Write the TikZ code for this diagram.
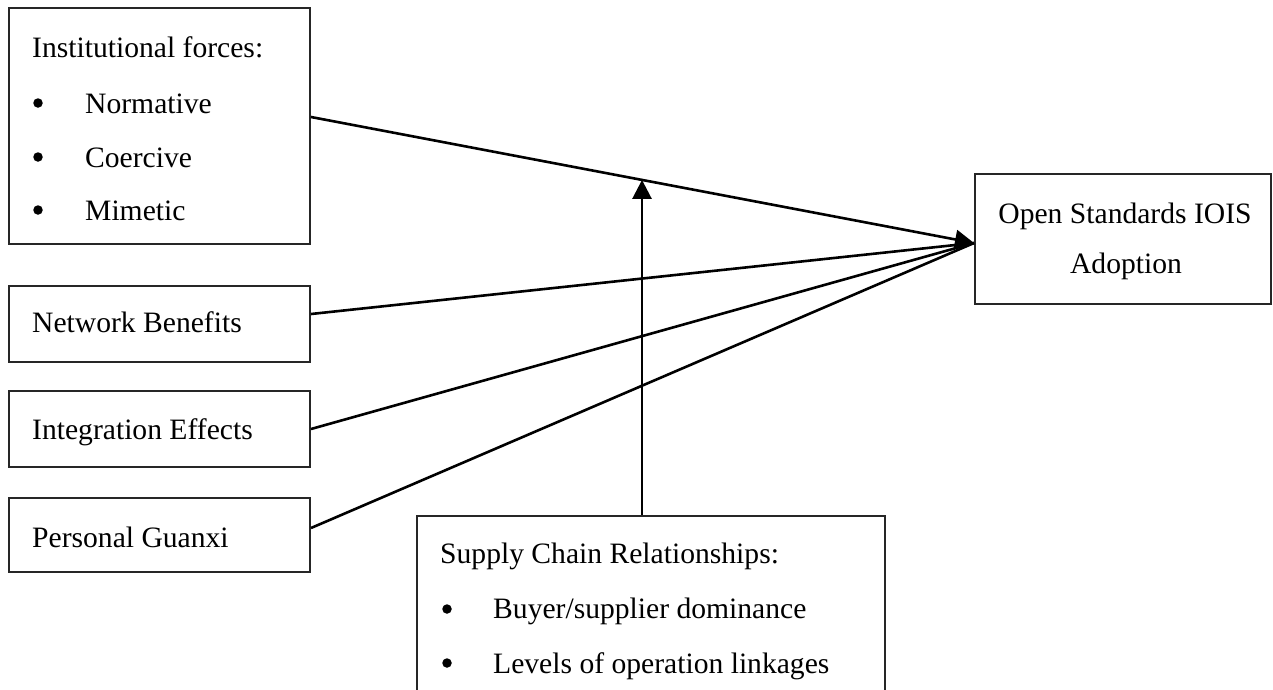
\documentclass[tikz,border=0pt]{standalone}
\usepackage{fontspec}
\setmainfont{Liberation Serif}
\usetikzlibrary{arrows.meta,calc}
\begin{document}
\begin{tikzpicture}[x=1pt,y=-1pt,
  box/.style={draw=black!85,line width=2pt,inner sep=0pt},
  txt/.style={anchor=base west,inner sep=0pt,font=\fontsize{29.6}{34}\selectfont},
  ctxt/.style={anchor=base,inner sep=0pt,font=\fontsize{29.6}{34}\selectfont},
  bul/.style={circle,fill=black,inner sep=0pt,minimum size=9.5pt},
  conn/.style={line width=2.6pt,-{Triangle[length=19pt,width=19pt]}},
  connb/.style={line width=2.6pt}]
\useasboundingbox (0,0) rectangle (1273,689);
% boxes
\node[box,minimum width=301pt,minimum height=236pt] (inst) at (159.5,126) {};
\node[box,minimum width=301pt,minimum height=76pt] (net) at (159.5,324) {};
\node[box,minimum width=301pt,minimum height=76pt] (integ) at (159.5,429) {};
\node[box,minimum width=301pt,minimum height=74pt] (guanxi) at (159.5,535) {};
\node[box,minimum width=296pt,minimum height=130pt] (open) at (1123,239) {};
\node[box,minimum width=468pt,minimum height=200pt] (supply) at (651,616) {};
% texts
\node[txt] (t1) at (32,57) {Institutional forces:};
\node[bul] (b1) at (38,103) {};
\node[txt] (t2) at (85,113) {Normative};
\node[bul] (b2) at (38,157) {};
\node[txt] (t3) at (85,167) {Coercive};
\node[bul] (b3) at (38,210) {};
\node[txt] (t4) at (85,220) {Mimetic};
\node[txt] (t5) at (32,332) {Network Benefits};
\node[txt] (t6) at (32,439) {Integration Effects};
\node[txt] (t7) at (32,547) {Personal Guanxi};
\node[ctxt] (t8) at (1125,223) {Open Standards IOIS};
\node[ctxt] (t9) at (1126,273) {Adoption};
\node[txt] (t10) at (440,563) {Supply Chain Relationships:};
\node[bul] (b4) at (447,609) {};
\node[txt] (t11) at (493,618) {Buyer/supplier dominance};
\node[bul] (b5) at (447,663) {};
\node[txt] (t12) at (493,673) {Levels of operation linkages};
% connectors
\coordinate (tgt) at ([yshift=-4pt]open.west);
\coordinate (s1) at ([yshift=9pt]inst.east);
\coordinate (s2) at ([yshift=10pt]net.east);
\coordinate (s3) at (integ.east);
\coordinate (s4) at ([yshift=7pt]guanxi.east);
\draw[connb] (s2) -- (tgt);
\draw[connb] (s3) -- (tgt);
\draw[connb] (s4) -- (tgt);
\draw[conn] (s1) -- (tgt);
\coordinate (m) at ($(s1)!0.4992!(tgt)$);
\draw[conn] ([xshift=-9pt]supply.north) -- ([xshift=-9pt]supply.north |- m);
\end{tikzpicture}
\end{document}
